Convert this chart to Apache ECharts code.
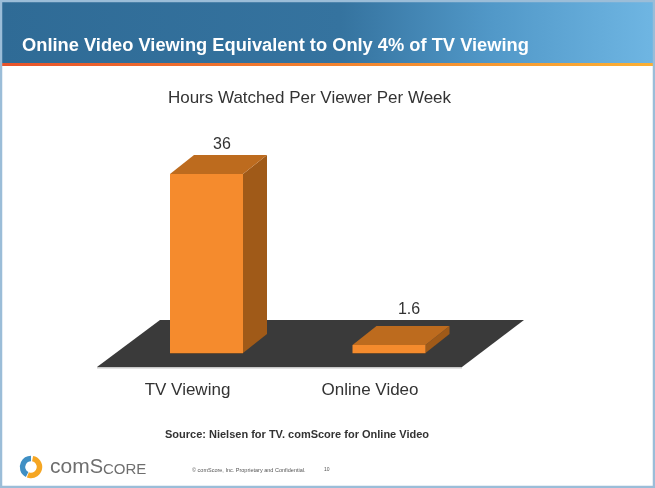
<!DOCTYPE html>
<html>
<head>
<meta charset="utf-8">
<style>html,body{margin:0;padding:0;background:#fff}#main{width:655px;height:488px}</style>
<script src="https://cdn.jsdelivr.net/npm/echarts@6/dist/echarts.min.js"></script>
</head>
<body>
<div id="main"></div>
<script>
var categories = ['TV Viewing', 'Online Video'];
var hours = [36, 1.6];
var valueLabels = ['36', '1.6'];

var chart = echarts.init(document.getElementById('main'));
var font = '"Liberation Sans", Arial, sans-serif';
//bar depth
var depthX = 24, depthY = 19;
//value label offset from the bar's front top centre
var labelDx = [15.5, 20], labelDy = [29, 35];

function renderBar(params, api) {
  var base = api.coord([api.value(0), 0]);
  var top = api.coord([api.value(0), api.value(1)]);
  var w = api.size([1, 0])[0] * 0.4;
  var l = base[0] - w / 2, r = base[0] + w / 2;
  var i = params.dataIndex;
  return {
    type: 'group',
    children: [
      {type: 'polygon', shape: {points: [[r, base[1]], [r + depthX, base[1] - depthY], [r + depthX, top[1] - depthY], [r, top[1]]]}, style: {fill: '#a05a18'}},
      {type: 'polygon', shape: {points: [[l, top[1]], [l + depthX, top[1] - depthY], [r + depthX, top[1] - depthY], [r, top[1]]]}, style: {fill: '#bd6b1e'}},
      {type: 'rect', shape: {x: l, y: top[1], width: w, height: base[1] - top[1]}, style: {fill: '#f58b2d'}},
      {type: 'rect', shape: {x: l, y: base[1], width: w, height: 1}, style: {fill: '#6b4a2a'}},
      {type: 'text', style: {x: base[0] + labelDx[i], y: top[1] - labelDy[i], text: valueLabels[i], fill: '#333', font: '16px ' + font, align: 'center', verticalAlign: 'middle'}}
    ]
  };
}

var option = {
  animation: false,
  backgroundColor: '#fff',
  title: [
    {text: 'Online Video Viewing Equivalent to Only 4% of TV Viewing', left: 22, top: 37, padding: 0, textStyle: {color: '#fff', fontFamily: font, fontSize: 18.3, fontWeight: 'bold'}},
    {text: 'Hours Watched Per Viewer Per Week', left: 309.5, top: 90, padding: 0, textAlign: 'center', textStyle: {color: '#333', fontFamily: font, fontSize: 17, fontWeight: 'normal'}},
    {text: 'Source: Nielsen for TV. comScore for Online Video', left: 297, top: 429, padding: 0, textAlign: 'center', textStyle: {color: '#333', fontFamily: font, fontSize: 11, fontWeight: 'bold'}},
    {text: '© comScore, Inc. Proprietary and Confidential.', left: 192, top: 467, padding: 0, textStyle: {color: '#555', fontFamily: font, fontSize: 5.5, fontWeight: 'normal'}},
    {text: '10', left: 324, top: 467, padding: 0, textStyle: {color: '#555', fontFamily: font, fontSize: 5, fontWeight: 'normal'}}
  ],
  grid: {left: 115.25, width: 365, top: 174, bottom: 135},
  xAxis: {
    type: 'category',
    data: categories,
    axisLine: {show: false},
    axisTick: {show: false},
    axisLabel: {color: '#333', fontFamily: font, fontSize: 17, margin: 29, padding: [0, 38, 0, 0]}
  },
  yAxis: {type: 'value', min: 0, max: 36, show: false},
  graphic: [
    //header
    {type: 'rect', shape: {x: 0, y: 0, width: 655, height: 63}, style: {fill: new echarts.graphic.LinearGradient(0, 0, 1, 0, [
      {offset: 0, color: '#2f6b96'}, {offset: 0.52, color: '#35739f'}, {offset: 0.75, color: '#5198c8'}, {offset: 1, color: '#6fb6e3'}])}},
    {type: 'rect', shape: {x: 0, y: 63, width: 655, height: 3}, style: {fill: new echarts.graphic.LinearGradient(0, 0, 1, 0, [
      {offset: 0, color: '#e8532b'}, {offset: 1, color: '#fbb034'}])}},
    //frame
    {type: 'rect', shape: {x: 1, y: 1, width: 653, height: 486}, style: {fill: 'none', stroke: '#9bbdd8', lineWidth: 2.5}},
    //floor
    {type: 'polygon', shape: {points: [[97, 367], [160, 320], [524, 320], [462, 367]]}, style: {fill: '#3a3a3a'}},
    {type: 'rect', shape: {x: 97, y: 367, width: 365, height: 1.5}, style: {fill: '#c8c8c8'}},
    //logo
    {type: 'arc', shape: {cx: 31, cy: 467, r: 8.5, startAngle: -Math.PI * 0.44, endAngle: Math.PI * 0.62}, style: {fill: 'none', stroke: '#f5a623', lineWidth: 5.5}},
    {type: 'arc', shape: {cx: 31, cy: 467, r: 8.5, startAngle: Math.PI * 0.65, endAngle: Math.PI * 1.5}, style: {fill: 'none', stroke: '#3f8fc4', lineWidth: 5.5}},
    {type: 'text', style: {x: 50, y: 467, text: '{a|com}{b|S}{c|CORE}', verticalAlign: 'middle', rich: {
      a: {fontFamily: font, fontSize: 21, fill: '#6e6e6e', verticalAlign: 'bottom'},
      b: {fontFamily: font, fontSize: 20, fill: '#6e6e6e', verticalAlign: 'bottom'},
      c: {fontFamily: font, fontSize: 15, fill: '#6e6e6e', verticalAlign: 'bottom'}}}}
  ],
  series: [{
    type: 'custom',
    renderItem: renderBar,
    encode: {x: 0, y: 1},
    data: hours.map(function (v, i) { return [i, v]; })
  }]
};
chart.setOption(option);
</script>
</body>
</html>
